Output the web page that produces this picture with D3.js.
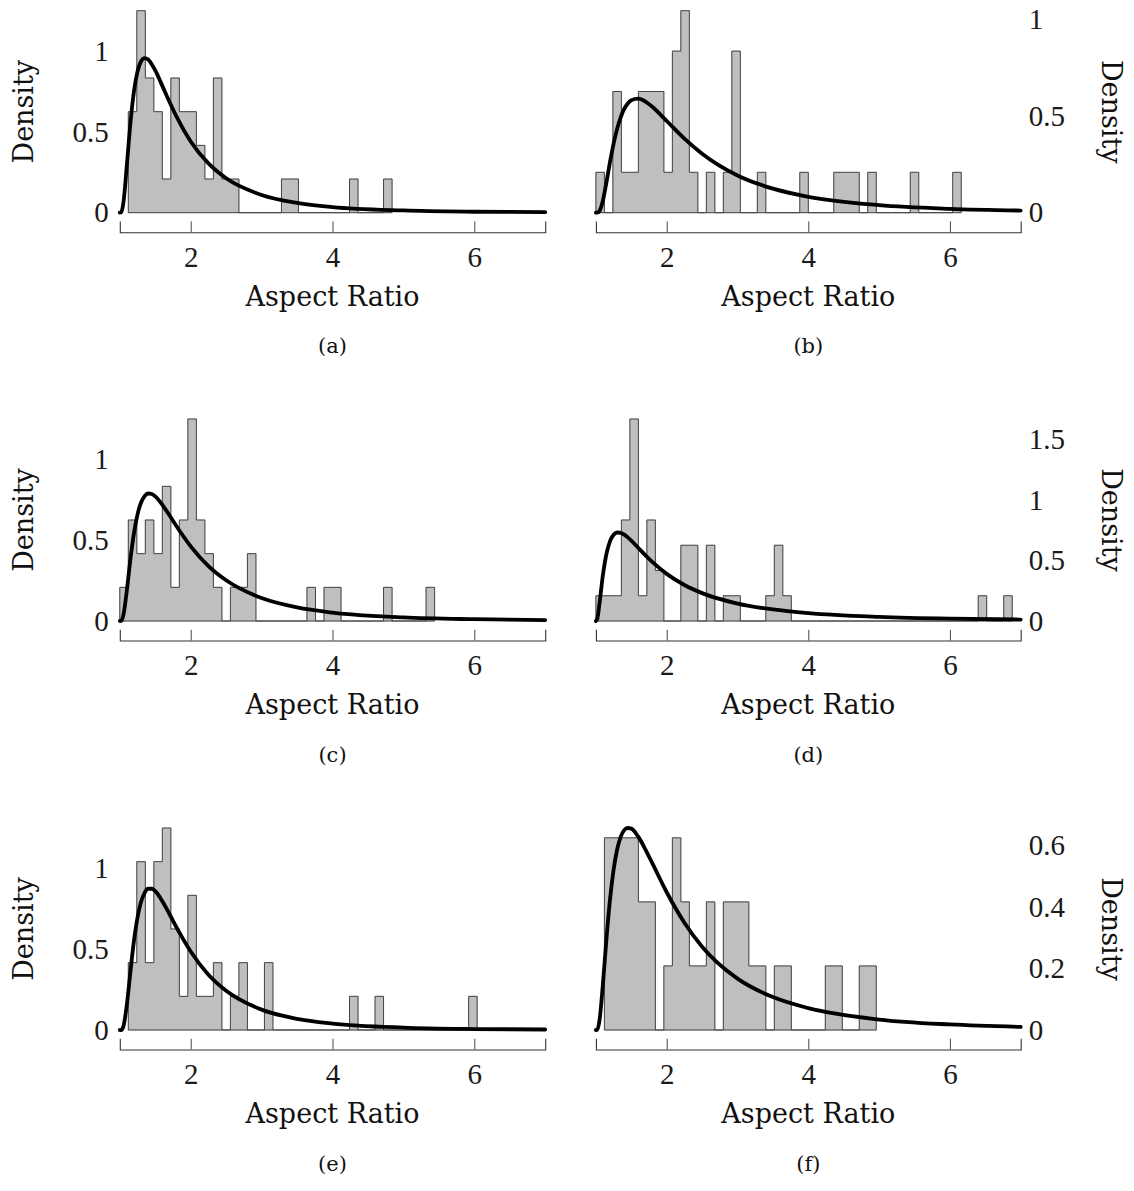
<!DOCTYPE html>
<html>
<head>
<meta charset="utf-8">
<script src="https://cdn.jsdelivr.net/npm/d3@7"></script>
<style>
  html, body { margin: 0; padding: 0; background: #fff; }
  svg { display: block; }
</style>
</head>
<body>
<svg id="chart" width="1134" height="1191"></svg>
<script>
// Aspect-ratio distributions: density histograms with a fitted log-normal curve, six panels.

// Histogram bins: common bin width, first edge of each panel, and counts per bin.
const binWidth = 0.12;
const binStarts = [1.12, 1.0, 1.0, 1.0, 1.12, 1.12];

const countsA = [3, 6, 4, 3, 1, 4, 3, 3, 2, 1, 4, 1, 1, 0, 0, 0, 0, 0, 1, 1, 0, 0, 0, 0, 0, 0, 1, 0, 0, 0, 1];
const countsB = [1, 0, 3, 1, 1, 3, 3, 3, 1, 4, 5, 1, 0, 1, 0, 1, 4, 0, 0, 1, 0, 0, 0, 0, 1, 0, 0, 0, 1, 1, 1, 0, 1, 0, 0, 0, 0, 1, 0, 0, 0, 0, 1];
const countsC = [1, 3, 2, 3, 2, 4, 1, 3, 6, 3, 2, 1, 0, 1, 1, 2, 0, 0, 0, 0, 0, 0, 1, 0, 1, 1, 0, 0, 0, 0, 0, 1, 0, 0, 0, 0, 1];
const countsD = [1, 1, 1, 4, 8, 1, 4, 2, 0, 0, 3, 3, 0, 3, 0, 1, 1, 0, 0, 0, 1, 3, 1,
                 0, 0, 0, 0, 0, 0, 0, 0, 0, 0, 0, 0, 0, 0, 0, 0, 0, 0, 0, 0, 0, 0, 1, 0, 0, 1];
const countsE = [2, 5, 2, 5, 6, 3, 1, 4, 1, 1, 2, 0, 1, 2, 0, 0, 2, 0, 0, 0, 0, 0, 0, 0, 0, 0, 1, 0, 0, 1,
                 0, 0, 0, 0, 0, 0, 0, 0, 0, 0, 1];
const countsF = [3, 3, 3, 3, 2, 2, 0, 1, 3, 2, 1, 1, 2, 0, 2, 2, 2, 1, 1, 0, 1, 1, 0, 0, 0, 0, 1, 1, 0, 0, 1, 1];

// Fitted density curves, sampled at curveX.
const curveX = [1.0, 1.02, 1.05, 1.1, 1.15, 1.2, 1.25, 1.3, 1.35, 1.4, 1.45, 1.5, 1.6, 1.7, 1.8, 2.0, 2.25, 2.5, 3.0, 3.5, 4.0, 5.0, 6.0, 7.0];
const curveA = [0, 0.002, 0.058, 0.297, 0.556, 0.752, 0.874, 0.937, 0.957, 0.948, 0.919, 0.880, 0.785, 0.687, 0.595, 0.441, 0.305, 0.213, 0.110, 0.061, 0.035, 0.014, 0.006, 0.003];
const curveB = [0, 0.000, 0.008, 0.064, 0.159, 0.263, 0.356, 0.433, 0.492, 0.535, 0.563, 0.580, 0.588, 0.573, 0.545, 0.473, 0.382, 0.304, 0.192, 0.124, 0.082, 0.039, 0.020, 0.011];
const curveC = [0, 0.001, 0.035, 0.192, 0.383, 0.544, 0.660, 0.733, 0.773, 0.789, 0.786, 0.771, 0.719, 0.654, 0.586, 0.462, 0.340, 0.252, 0.142, 0.084, 0.052, 0.022, 0.011, 0.006];
const curveD = [0, 0.018, 0.141, 0.384, 0.557, 0.659, 0.711, 0.730, 0.727, 0.713, 0.690, 0.663, 0.602, 0.542, 0.486, 0.389, 0.297, 0.230, 0.144, 0.095, 0.065, 0.034, 0.019, 0.012];
const curveE = [0, 0.000, 0.021, 0.159, 0.362, 0.552, 0.696, 0.793, 0.849, 0.874, 0.874, 0.859, 0.797, 0.718, 0.635, 0.486, 0.342, 0.243, 0.126, 0.069, 0.040, 0.015, 0.006, 0.003];
const curveF = [0, 0.001, 0.030, 0.152, 0.299, 0.426, 0.521, 0.587, 0.628, 0.650, 0.657, 0.655, 0.628, 0.587, 0.541, 0.448, 0.349, 0.271, 0.167, 0.107, 0.071, 0.034, 0.018, 0.010];

// Axis ticks and labels.
const xDomain = [1, 7];
const xTickValues = [2, 4, 6];
const yTicksA = [0, 0.5, 1];
const yTicksB = [0, 0.5, 1];
const yTicksC = [0, 0.5, 1];
const yTicksD = [0, 0.5, 1, 1.5];
const yTicksE = [0, 0.5, 1];
const yTicksF = [0, 0.2, 0.4, 0.6];
const panelCaptions = ["(a)", "(b)", "(c)", "(d)", "(e)", "(f)"];
const xAxisTitle = "Aspect Ratio";
const yAxisTitle = "Density";

const panels = [
  { counts: countsA, curve: curveA, yTicks: yTicksA },
  { counts: countsB, curve: curveB, yTicks: yTicksB },
  { counts: countsC, curve: curveC, yTicks: yTicksC },
  { counts: countsD, curve: curveD, yTicks: yTicksD },
  { counts: countsE, curve: curveE, yTicks: yTicksE },
  { counts: countsF, curve: curveF, yTicks: yTicksF }
].map((p, i) => Object.assign(p, { start: binStarts[i], caption: panelCaptions[i] }));

// Layout
const colRange = [[119.8, 545.2], [595.9, 1020.7]];
const rowBase = [212.7, 621.0, 1030.0];
const plotH = 202;
const axisOffset = 19.5;
const tickLen = 10.7;

const numFont = "'Liberation Serif', 'Times New Roman', serif";
const textFont = "'DejaVu Serif', serif";

const svg = d3.select("#chart");

panels.forEach((p, i) => {
  const col = i % 2;
  const row = Math.floor(i / 2);
  const [rx0, rx1] = colRange[col];
  const base = rowBase[row];
  const top = base - plotH;

  const x = d3.scaleLinear().domain(xDomain).range([rx0, rx1]);
  const n = d3.sum(p.counts);
  const bins = p.counts.map((c, k) => ({
    x0: p.start + k * binWidth,
    x1: p.start + (k + 1) * binWidth,
    d: c / (n * binWidth)
  }));
  const ymax = Math.max(d3.max(bins, b => b.d), d3.max(p.curve));
  const y = d3.scaleLinear().domain([0, ymax]).range([base, top]);

  const g = svg.append("g").attr("class", "panel");

  // Bar fills
  g.append("g").selectAll("rect")
    .data(bins)
    .join("rect")
    .attr("x", b => x(b.x0))
    .attr("width", b => x(b.x1) - x(b.x0))
    .attr("y", b => y(b.d))
    .attr("height", b => y(0) - y(b.d))
    .attr("fill", "#bfbfbf")
    .attr("stroke", "#bfbfbf")
    .attr("stroke-width", 0.8);

  // Histogram outline (step path) and baseline
  const last = bins[bins.length - 1];
  const outline = [[bins[0].x0, 0]]
    .concat(bins.map(b => [b.x0, b.d]))
    .concat([[last.x1, last.d], [last.x1, 0]]);
  g.append("path")
    .attr("d", d3.line().x(d => x(d[0])).y(d => y(d[1])).curve(d3.curveStepAfter)(outline))
    .attr("fill", "none")
    .attr("stroke", "#444")
    .attr("stroke-width", 1);
  g.append("path")
    .attr("d", d3.line().x(d => x(d)).y(() => y(0))([bins[0].x0, last.x1]))
    .attr("fill", "none")
    .attr("stroke", "#444")
    .attr("stroke-width", 1);

  // Fitted density curve
  g.append("path")
    .datum(curveX.map((xv, k) => [xv, p.curve[k]]))
    .attr("d", d3.line().x(d => x(d[0])).y(d => y(d[1])).curve(d3.curveMonotoneX))
    .attr("fill", "none")
    .attr("stroke", "#000")
    .attr("stroke-width", 3.8)
    .attr("stroke-linejoin", "round")
    .attr("stroke-linecap", "round");

  // x axis: detached line below the plot, ticks pointing up
  const xAxis = g.append("g")
    .attr("transform", `translate(0,${base + axisOffset})`)
    .call(d3.axisBottom(x).tickValues(xTickValues).tickFormat(d3.format("d"))
      .tickSize(-tickLen).tickSizeOuter(-tickLen).tickPadding(14));
  xAxis.select(".domain").attr("stroke", "#333").attr("stroke-width", 1.1);
  xAxis.selectAll(".tick line").attr("stroke", "#444").attr("stroke-width", 1);
  xAxis.selectAll("text")
    .attr("font-family", numFont).attr("font-size", 29).attr("fill", "#1a1a1a");

  // y axis labels only (left column on the left, right column on the right)
  const yAxisGen = (col === 0 ? d3.axisLeft(y) : d3.axisRight(y))
    .tickValues(p.yTicks).tickFormat(d3.format("~g"))
    .tickSize(0).tickPadding(col === 0 ? 11 : 8);
  const yAxis = g.append("g")
    .attr("transform", `translate(${col === 0 ? rx0 : rx1},0)`)
    .call(yAxisGen);
  yAxis.select(".domain").remove();
  yAxis.selectAll(".tick line").remove();
  yAxis.selectAll("text")
    .attr("font-family", numFont).attr("font-size", 29).attr("fill", "#1a1a1a");

  // Axis titles
  const midY = (top + base) / 2;
  g.append("text")
    .attr("transform", col === 0 ? `translate(33,${midY}) rotate(-90)` : `translate(1102,${midY}) rotate(90)`)
    .attr("text-anchor", "middle")
    .attr("font-family", textFont).attr("font-size", 27).attr("fill", "#111")
    .text(yAxisTitle);

  g.append("text")
    .attr("x", (rx0 + rx1) / 2)
    .attr("y", base + 93.3)
    .attr("text-anchor", "middle")
    .attr("font-family", textFont).attr("font-size", 27).attr("fill", "#111")
    .text(xAxisTitle);

  // Panel caption
  g.append("text")
    .attr("x", (rx0 + rx1) / 2)
    .attr("y", base + 140.5)
    .attr("text-anchor", "middle")
    .attr("font-family", textFont).attr("font-size", 21).attr("fill", "#111")
    .text(p.caption);
});
</script>
</body>
</html>
